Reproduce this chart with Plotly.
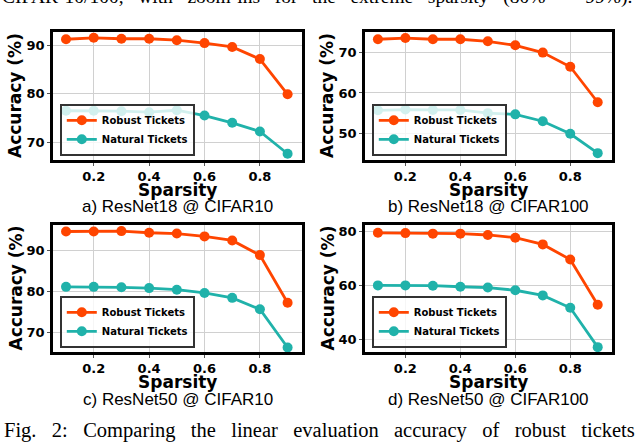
import plotly.graph_objects as go

# data
sparsity = [0.1, 0.2, 0.3, 0.4, 0.5, 0.6, 0.7, 0.8, 0.9]

r18_c10_robust = [91.3, 91.6, 91.4, 91.4, 91.1, 90.5, 89.7, 87.2, 79.9]
r18_c10_natural = [76.5, 76.5, 76.4, 76.2, 76.6, 75.5, 74.0, 72.2, 67.6]

r18_c100_robust = [73.3, 73.6, 73.3, 73.3, 72.8, 71.8, 70.0, 66.5, 57.7]
r18_c100_natural = [55.7, 55.9, 55.8, 55.8, 55.0, 54.7, 53.0, 49.9, 45.1]

r50_c10_robust = [94.7, 94.7, 94.8, 94.4, 94.2, 93.5, 92.5, 88.9, 77.2]
r50_c10_natural = [81.1, 81.1, 81.0, 80.8, 80.4, 79.6, 78.4, 75.6, 66.2]

r50_c100_robust = [79.6, 79.5, 79.3, 79.3, 78.8, 77.8, 75.3, 69.7, 52.9]
r50_c100_natural = [60.1, 60.1, 60.0, 59.6, 59.3, 58.3, 56.4, 51.8, 37.2]

panel_titles = ["a) ResNet18 @ CIFAR10", "b) ResNet18 @ CIFAR100",
                "c) ResNet50 @ CIFAR10", "d) ResNet50 @ CIFAR100"]
y_ranges = [[66.3, 92.8], [43.4, 75.1], [65.1, 96.3], [35.4, 82.5]]
y_ticks = [[70, 80, 90], [50, 60, 70], [70, 80, 90], [40, 60, 80]]
x_ticks = [0.2, 0.4, 0.6, 0.8]

top_line = ["CIFAR-10/100,", "with", "zoom-ins", "for", "the", "extreme",
            "sparsity", "(80%", "~", "99%)."]
caption = ["Fig.", "2:", "Comparing", "the", "linear", "evaluation",
           "accuracy", "of", "robust", "tickets"]

panels = [
    (r18_c10_robust, r18_c10_natural),
    (r18_c100_robust, r18_c100_natural),
    (r50_c10_robust, r50_c10_natural),
    (r50_c100_robust, r50_c100_natural),
]

W, H = 640, 443
ROBUST = "#FF4500"
NATURAL = "#20B2AA"
BOLD = "DejaVu Sans"

# plot boxes in pixels: left, right, top, bottom
boxes = [(53, 302, 32, 160), (365, 612, 32, 160),
         (53, 302, 225, 352), (365, 612, 225, 352)]

fig = go.Figure()
annotations = []

for i, (rob, nat) in enumerate(panels):
    n = "" if i == 0 else str(i + 1)
    xa, ya = "x" + n, "y" + n
    lg = "legend" if i == 0 else "legend" + str(i + 1)
    for name, vals, col in [("Robust Tickets", rob, ROBUST), ("Natural Tickets", nat, NATURAL)]:
        fig.add_trace(go.Scatter(
            x=sparsity, y=vals, name=name, mode="lines+markers",
            line=dict(color=col, width=2.8),
            marker=dict(color=col, size=10),
            xaxis=xa, yaxis=ya, legend=lg, showlegend=True,
        ))

    l, r, t, b = boxes[i]
    dx = [l / W, r / W]
    dy = [1 - b / H, 1 - t / H]
    axis_common = dict(
        showline=True, mirror=True, linecolor="black", linewidth=2.5,
        showgrid=True, gridcolor="#d0d0d0", gridwidth=1,
        zeroline=False, ticks="outside", ticklen=3, tickcolor="#555555",
        tickfont=dict(family=BOLD, size=13, color="black", weight="bold"),
    )
    fig.layout["xaxis" + n] = dict(
        domain=dx, anchor=ya, range=[0.053, 0.952],
        tickvals=x_ticks, ticktext=["0.2", "0.4", "0.6", "0.8"], **axis_common)
    fig.layout["yaxis" + n] = dict(
        domain=dy, anchor=xa, range=y_ranges[i],
        tickvals=y_ticks[i], **axis_common)

    fig.layout[lg] = dict(
        x=(l + 7) / W, y=1 - (b - 4) / H, xanchor="left", yanchor="bottom",
        xref="paper", yref="paper",
        bgcolor="rgba(255,255,255,0.8)", bordercolor="#333333", borderwidth=1.8,
        font=dict(family=BOLD, size=10, color="black", weight="bold"),
        itemwidth=30, tracegroupgap=0,
    )

    cx = (l + r) / 2 / W
    annotations.append(dict(
        text="Sparsity", x=cx, y=1 - (b + 30) / H, xref="paper", yref="paper",
        showarrow=False, xanchor="center", yanchor="middle",
        font=dict(family=BOLD, size=17, color="black", weight="bold")))
    annotations.append(dict(
        text=panel_titles[i], x=cx, y=1 - (b + 47) / H, xref="paper", yref="paper",
        showarrow=False, xanchor="center", yanchor="middle",
        font=dict(family="Liberation Sans", size=17, color="black")))
    annotations.append(dict(
        text="Accuracy (%)", x=(l - 38) / W, y=1 - (t + b) / 2 / H,
        xref="paper", yref="paper", textangle=-90,
        showarrow=False, xanchor="center", yanchor="middle",
        font=dict(family=BOLD, size=17, color="black", weight="bold")))

# the paper text around the figure is justified, so widen the word gaps
annotations.append(dict(
    text="   ".join(top_line),
    x=0, y=1 + 3 / H, xref="paper", yref="paper", showarrow=False,
    xanchor="left", yanchor="middle",
    font=dict(family="Liberation Serif", size=19.5, color="black")))
annotations.append(dict(
    text="\u2002 ".join(caption),
    x=319 / W, y=1 - 430 / H, xref="paper", yref="paper", showarrow=False,
    xanchor="center", yanchor="middle",
    font=dict(family="Liberation Serif", size=20.5, color="black")))

fig.update_layout(
    width=W, height=H,
    margin=dict(l=0, r=0, t=0, b=0),
    paper_bgcolor="white", plot_bgcolor="white",
    annotations=annotations,
)

# drop the default page margin so the figure sits at the window corner
fig.write_html("out.html", config={"displayModeBar": False},
               post_script="document.body.style.margin='0';")
